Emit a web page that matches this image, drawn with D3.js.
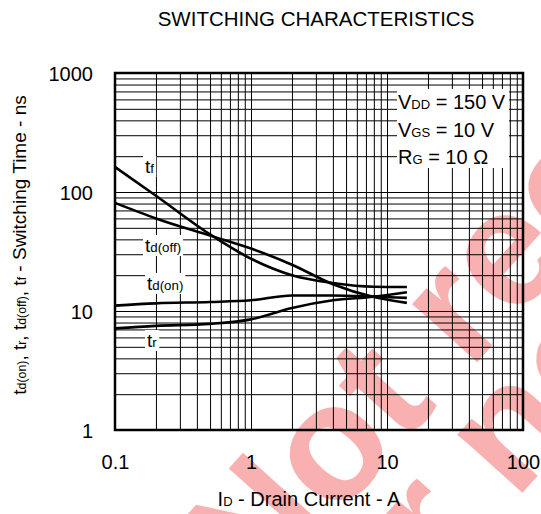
<!DOCTYPE html>
<html><head><meta charset="utf-8">
<script src="https://cdn.jsdelivr.net/npm/d3@7"></script>
<style>body{margin:0;background:#fff}svg{display:block}</style>
</head><body>
<svg id="chart" width="541" height="514"></svg>
<script>
// Switching times vs drain current (log-log)
const drainCurrent = [0.1, 0.2, 0.5, 1, 2, 4, 8, 14];
const tdOn  = [11.1, 11.6, 11.9, 12.3, 13.5, 13.5, 13.2, 12.9];
const tRise = [7.15, 7.5, 7.8, 8.5, 10.6, 12.3, 13.2, 14.4];
const tdOff = [81, 60, 43, 33.5, 24.5, 16.8, 13.1, 11.7];
const tFall = [162, 93, 44, 27.5, 20, 17.2, 16, 15.9];
const xTicks = [0.1, 1, 10, 100];
const yTicks = [1, 10, 100, 1000];
const conditionLines = [["V", "DD", " = 150 V"], ["V", "GS", " = 10 V"], ["R", "G", " = 10 Ω"]];

const FONT = "'Liberation Sans', Arial, sans-serif";
const svg = d3.select("#chart").style("font-family", FONT);
const L = 115, R = 523, T = 73, B = 430;

const x = d3.scaleLog().domain([0.1, 100]).range([L, R]);
const y = d3.scaleLog().domain([1, 1000]).range([B, T]);

// decade grid values 1..9 × 10^n
const decadeSteps = (lo, hi) => {
  const v = [];
  for (let e = Math.log10(lo); e < Math.log10(hi); e++)
    for (let k = 1; k <= 9; k++) v.push(+(k * Math.pow(10, e)).toPrecision(3));
  v.push(hi);
  return v;
};

// watermark (behind the chart)
const wm = svg.append("g")
  .attr("transform", "translate(255,609) rotate(-48)")
  .attr("fill", "#f8b0b0")
  .attr("font-weight", "bold")
  .attr("font-size", 165);
wm.append("text").attr("x", 0).attr("y", 0).text("Not recommended");
wm.append("text").attr("x", -12).attr("y", 121).text("for new design");

// grid
const gx = svg.append("g").attr("transform", `translate(0,${B})`)
  .call(d3.axisBottom(x).tickValues(decadeSteps(0.1, 100)).tickSize(-(B - T)).tickFormat(""));
const gy = svg.append("g").attr("transform", `translate(${L},0)`)
  .call(d3.axisLeft(y).tickValues(decadeSteps(1, 1000)).tickSize(-(R - L)).tickFormat(""));
[gx, gy].forEach(g => {
  g.select(".domain").remove();
  g.selectAll("line").attr("stroke", "#000").attr("stroke-width", 1);
});

// tick labels
const xl = svg.append("g").attr("transform", `translate(0,${B + 39})`)
  .call(d3.axisBottom(x).tickValues(xTicks).tickSize(0).tickPadding(0).tickFormat(d3.format("~g")));
xl.select(".domain").remove();
xl.selectAll("text").attr("font-size", 20).attr("font-family", FONT).attr("fill", "#000").attr("dy", 0);

const yl = svg.append("g").attr("transform", `translate(${L - 22},0)`)
  .call(d3.axisLeft(y).tickValues(yTicks).tickSize(0).tickPadding(0).tickFormat(d3.format("~g")));
yl.select(".domain").remove();
yl.selectAll("text").attr("font-size", 20).attr("font-family", FONT).attr("fill", "#000").attr("dy", "0.36em");

// text with small subscripts
function richText(sel, parts, size, ratio = 0.65) {
  parts.forEach(([s, sub]) => {
    sel.append("tspan").attr("font-size", sub ? size * ratio : size).text(s);
  });
  return sel;
}

// conditions box
svg.append("rect").attr("x", 397).attr("y", 89).attr("width", 112).attr("height", 79).attr("fill", "#fff");
conditionLines.forEach((ln, i) => {
  richText(svg.append("text").attr("x", 398).attr("y", 109 + i * 27.5),
    [[ln[0]], [ln[1], true], [ln[2]]], 20);
});

// curves
const line = d3.line().x(d => x(d[0])).y(d => y(d[1])).curve(d3.curveMonotoneX);
[tdOn, tRise, tdOff, tFall].forEach(series => {
  svg.append("path")
    .datum(drainCurrent.map((c, i) => [c, series[i]]))
    .attr("d", line).attr("fill", "none").attr("stroke", "#000").attr("stroke-width", 2.6);
});

// curve labels on white patches
const curveLabels = [
  {sub: "f", x: 145, y: 173},
  {sub: "d(off)", x: 145, y: 252},
  {sub: "d(on)", x: 147, y: 290},
  {sub: "r", x: 147, y: 347}
];
curveLabels.forEach(c => {
  const g = svg.append("g");
  const bg = g.append("rect").attr("fill", "#fff");
  const t = richText(g.append("text").attr("x", c.x).attr("y", c.y), [["t"], [c.sub, true]], 19, 0.7);
  const b = t.node().getBBox();
  bg.attr("x", b.x - 2).attr("y", b.y).attr("width", b.width + 4).attr("height", b.height);
});

// frame
svg.append("rect").attr("x", L).attr("y", T).attr("width", R - L).attr("height", B - T)
  .attr("fill", "none").attr("stroke", "#000").attr("stroke-width", 2.5);

// title and axis titles
svg.append("text").attr("x", 316).attr("y", 26).attr("text-anchor", "middle")
  .attr("font-size", 20.5).text("SWITCHING CHARACTERISTICS");
richText(svg.append("text").attr("x", 309).attr("y", 506).attr("text-anchor", "middle"),
  [["I"], ["D", true], [" - Drain Current - A"]], 20);
richText(svg.append("text").attr("transform", "translate(26,245) rotate(-90)").attr("text-anchor", "middle"),
  [["t"], ["d(on)", true], [", t"], ["r", true], [", t"], ["d(off)", true], [", t"], ["f", true], [" - Switching Time - ns"]], 19);
</script>
</body></html>
